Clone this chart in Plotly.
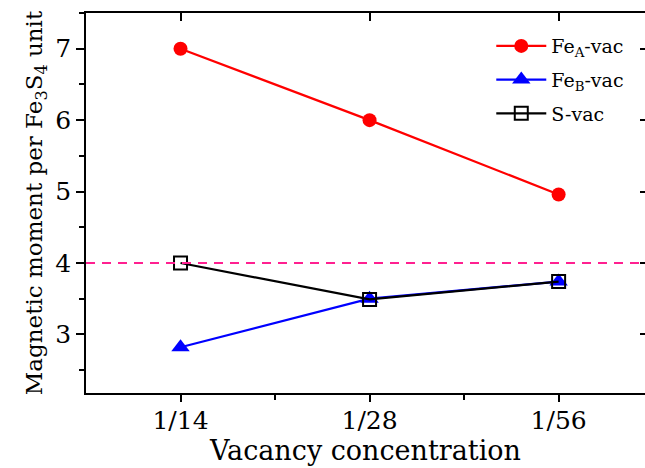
import plotly.graph_objects as go

categories = ["1/14", "1/28", "1/56"]
fe_a_vac = [7.0, 6.0, 4.96]
fe_b_vac = [2.82, 3.50, 3.74]
s_vac = [4.0, 3.49, 3.74]
reference_moment = 4.0
y_ticks = [3, 4, 5, 6, 7]

xpos = list(range(1, len(categories) + 1))
FONT = "DejaVu Serif"

fig = go.Figure()
fig.add_trace(go.Scatter(
    x=xpos, y=fe_a_vac, mode="lines+markers", name="Fe<sub>A</sub>-vac",
    line=dict(color="#ff0000", width=2.2),
    marker=dict(symbol="circle", size=14, color="#ff0000"),
    legendgroup="a"))
fig.add_trace(go.Scatter(
    x=xpos, y=fe_b_vac, mode="lines+markers", name="Fe<sub>B</sub>-vac",
    line=dict(color="#0000ff", width=2.2),
    marker=dict(symbol="triangle-up", size=16, color="#0000ff"),
    legendgroup="b"))
fig.add_trace(go.Scatter(
    x=xpos, y=s_vac, mode="lines+markers", name="S-vac",
    line=dict(color="#000000", width=2.2),
    marker=dict(symbol="square-open", size=13, color="#000000", line=dict(width=2)),
    legendgroup="c"))
fig.add_trace(go.Scatter(x=[None], y=[None], xaxis="x2", yaxis="y2",
                         showlegend=False, hoverinfo="skip"))

fig.add_hline(y=reference_moment, line=dict(color="#ff2090", width=2, dash="9px,7px"))

xr = [0.5, 3.457]
yr = [2.18, 7.5]

fig.update_layout(
    width=645, height=468,
    margin=dict(l=86, r=0, t=13, b=75, autoexpand=False),
    paper_bgcolor="white", plot_bgcolor="white",
    font=dict(family=FONT, color="#000000"),
    showlegend=True,
    legend=dict(x=0.725, y=0.963, xanchor="left", yanchor="top",
                font=dict(family=FONT, size=19), bgcolor="rgba(0,0,0,0)",
                tracegroupgap=6, itemwidth=50),
    xaxis=dict(range=xr, tickmode="array", tickvals=xpos, ticktext=categories, automargin=False,
               showgrid=False, zeroline=False, showline=True, linecolor="#000", linewidth=1.5,
               ticks="outside", ticklen=7, tickwidth=1.5, tickcolor="#000",
               tickfont=dict(size=25, family=FONT), ticklabelstandoff=-3,
               minor=dict(tickmode="array", tickvals=[1.5, 2.5], ticks="outside",
                          ticklen=5, tickwidth=1.5, tickcolor="#000"),
               title=dict(text="Vacancy concentration", font=dict(size=27, family=FONT), standoff=0)),
    yaxis=dict(range=yr, tickmode="array", tickvals=y_ticks, automargin=False,
               showgrid=False, zeroline=False, showline=True, linecolor="#000", linewidth=1.5,
               ticks="outside", ticklen=8, tickwidth=1.5, tickcolor="#000",
               tickfont=dict(size=25, family=FONT),
               minor=dict(dtick=0.5, ticks="outside", ticklen=5, tickwidth=1.5, tickcolor="#000"),
               title=dict(text="Magnetic moment per Fe<sub>3</sub>S<sub>4</sub> unit",
                          font=dict(size=23, family=FONT), standoff=6)),
    xaxis2=dict(range=xr, overlaying="x", side="top", anchor="y2", tickmode="array", tickvals=xpos,
                automargin=False,
                showticklabels=False, showgrid=False, zeroline=False, showline=True,
                linecolor="#000", linewidth=1.5, ticks="inside", ticklen=8, tickwidth=1.5,
                tickcolor="#000"),
    yaxis2=dict(range=yr, overlaying="y", side="right", anchor="x2", tickmode="array", tickvals=y_ticks,
                automargin=False,
                showticklabels=False, showgrid=False, zeroline=False, showline=True,
                linecolor="#000", linewidth=1.5, ticks="inside", ticklen=5, tickwidth=1.5,
                tickcolor="#000"),
)

fig.write_html("out.html", config={"displayModeBar": False},
               post_script="document.body.style.margin='0';")
